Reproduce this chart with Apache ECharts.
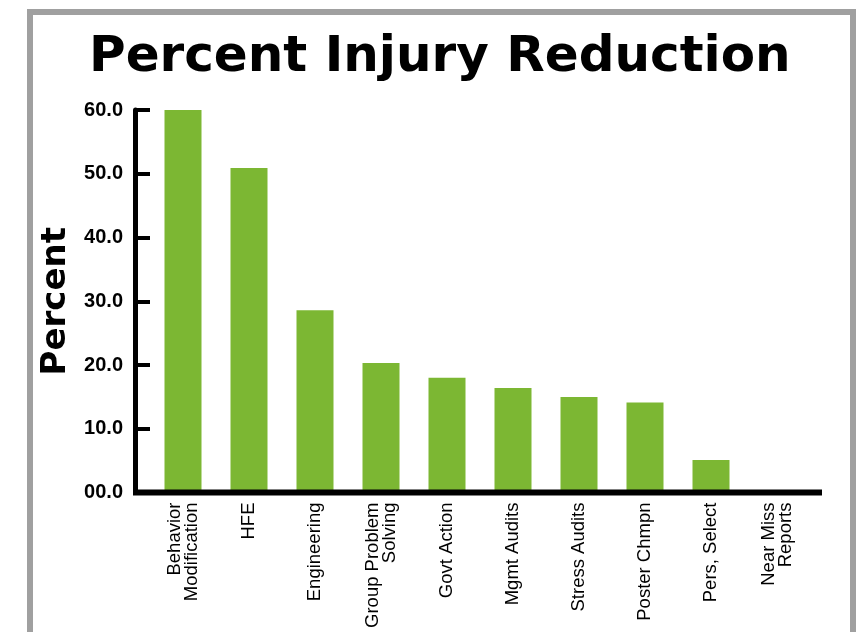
<!DOCTYPE html>
<html>
<head>
<meta charset="utf-8">
<script src="https://cdn.jsdelivr.net/npm/echarts@6/dist/echarts.min.js"></script>
<style>html,body{margin:0;padding:0;background:#fff;}#c{width:862px;height:632px;}</style>
</head>
<body>
<div id="c"></div>
<script>
var categories = ['Behavior\nModification', 'HFE', 'Engineering', 'Group Problem\nSolving', 'Govt Action', 'Mgmt Audits', 'Stress Audits', 'Poster Chmpn', 'Pers, Select', 'Near Miss\nReports'];
var values = [60.3, 50.9, 28.6, 20.3, 18.0, 16.4, 15.0, 14.1, 5.1, 0];
var yTickLabels = ['00.0', '10.0', '20.0', '30.0', '40.0', '50.0', '60.0'];

var chart = echarts.init(document.getElementById('c'));
var gridTop = 110, gridBottom = 139.5;
chart.setOption({
  animation: false,
  backgroundColor: '#ffffff',
  title: {
    text: 'Percent Injury Reduction',
    left: 84, top: 28,
    textStyle: { fontFamily: 'DejaVu Sans', fontWeight: 'bold', fontSize: 50, color: '#000' }
  },
  grid: { left: 150, right: 52, top: gridTop, bottom: gridBottom, containLabel: false },
  xAxis: {
    type: 'category',
    data: categories,
    axisLine: { show: false },
    axisTick: { show: false },
    axisLabel: {
      rotate: 90, interval: 0, margin: 10,
      fontFamily: 'Liberation Sans', fontSize: 18.5, lineHeight: 17, color: '#000'
    }
  },
  yAxis: {
    type: 'value', min: 0, max: 60, interval: 10,
    offset: 15,
    name: 'Percent', nameLocation: 'middle', nameRotate: 90, nameGap: 59,
    nameTextStyle: { fontFamily: 'DejaVu Sans', fontWeight: 'bold', fontSize: 34, color: '#000' },
    axisLine: { show: true, lineStyle: { color: '#000', width: 5 } },
    axisTick: { show: true, inside: true, length: 15, lineStyle: { color: '#000', width: 4 } },
    splitLine: { show: false },
    axisLabel: {
      margin: 12, color: '#000', fontFamily: 'Liberation Sans', fontWeight: 'bold', fontSize: 20,
      formatter: function (v) { return yTickLabels[Math.round(v / 10)]; }
    }
  },
  series: [{
    type: 'bar', data: values, barWidth: 37,
    itemStyle: { color: '#7cb733' }
  }],
  graphic: [
    { type: 'rect', left: 27, top: 9, z: 100, silent: true,
      shape: { width: 823, height: 700 },
      style: { fill: 'none', stroke: '#a0a0a0', lineWidth: 6 } },
    { type: 'line', z: 50, silent: true,
      shape: { x1: 133, y1: 632 - gridBottom, x2: 822, y2: 632 - gridBottom },
      style: { stroke: '#000', lineWidth: 6 } }
  ]
});
</script>
</body>
</html>
